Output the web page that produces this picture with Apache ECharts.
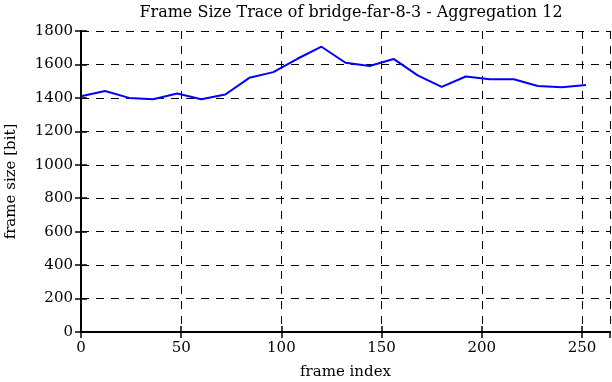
<!DOCTYPE html>
<html>
<head>
<meta charset="utf-8">
<script src="https://cdn.jsdelivr.net/npm/echarts@6/dist/echarts.min.js"></script>
<style>
html,body{margin:0;padding:0;background:#fff;}
#chart{width:612px;height:382px;}
</style>
</head>
<body>
<div id="chart"></div>
<script>
const frameIndex = [0,12,24,36,48,60,72,84,96,108,120,132,144,156,168,180,192,204,216,228,240,252];
const frameSize = [1410,1441,1400,1392,1426,1392,1420,1520,1554,1634,1706,1610,1591,1633,1535,1466,1528,1511,1511,1471,1464,1477];
const xTicks = [0,50,100,150,200,250];
const yTicks = [0,200,400,600,800,1000,1200,1400,1600,1800];

const data = frameIndex.map((x,i)=>[x, frameSize[i]]);
const font = 'DejaVu Serif';
const chart = echarts.init(document.getElementById('chart'));
const dashed = {show:true, lineStyle:{color:'#000', type:[8,7], width:1}};
const lab = {fontFamily:font, fontSize:15, color:'#000'};
chart.setOption({
  animation:false,
  backgroundColor:'#fff',
  textStyle:{fontFamily:font, color:'#000'},
  title:{
    text:'Frame Size Trace of bridge-far-8-3 - Aggregation 12',
    left:346, top:0, textAlign:'center',
    textStyle:{fontFamily:font, fontSize:16, fontWeight:'normal', color:'#000'}
  },
  grid:{left:81, right:2, top:31, bottom:50, containLabel:false, outerBoundsMode:'none'},
  xAxis:[{
    type:'value', min:0, max:264, interval:50,
    name:'frame index', nameLocation:'middle', nameGap:33,
    nameTextStyle:lab,
    axisLine:{show:true, lineStyle:{color:'#000', width:2}},
    axisTick:{show:true, inside:true, length:6, lineStyle:{color:'#000', width:1.5}},
    axisLabel:{margin:9, showMaxLabel:false, fontFamily:font, fontSize:15, color:'#000',
      formatter:v=> xTicks.includes(v) ? String(v) : ''},
    splitLine:dashed
  },{
    type:'value', min:0, max:264, interval:50, position:'top',
    axisLine:{show:true, lineStyle:{color:'#000', width:2}},
    axisTick:{show:true, inside:true, length:6, lineStyle:{color:'#000', width:1.5}},
    axisLabel:{show:false}, splitLine:{show:false}
  }],
  yAxis:[{
    type:'value', min:0, max:1800, interval:200,
    name:'frame size [bit]', nameLocation:'middle', nameGap:62, nameRotate:90,
    nameTextStyle:lab,
    axisLine:{show:true, lineStyle:{color:'#000', width:2}},
    axisTick:{show:true, inside:true, length:6, lineStyle:{color:'#000', width:1.5}},
    axisLabel:{margin:8, fontFamily:font, fontSize:15, color:'#000',
      formatter:v=> yTicks.includes(v) ? String(v) : ''},
    splitLine:dashed
  },{
    type:'value', min:0, max:1800, interval:200, position:'right',
    axisLine:{show:true, lineStyle:{color:'#000', width:2}},
    axisTick:{show:true, inside:true, length:6, lineStyle:{color:'#000', width:1.5}},
    axisLabel:{show:false}, splitLine:{show:false}
  }],
  series:[{
    type:'line', data:data, xAxisIndex:0, yAxisIndex:0,
    showSymbol:false, symbol:'none',
    lineStyle:{color:'#0000ff', width:2}
  }]
});
</script>
</body>
</html>
